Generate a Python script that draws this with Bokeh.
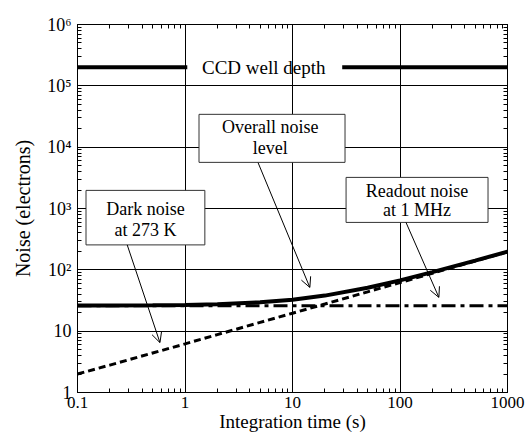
from bokeh.plotting import figure
from bokeh.models import LogAxis, Arrow, OpenHead, FixedTicker, Range1d
from bokeh.core.properties import value
from bokeh.embed import file_html
from bokeh.resources import INLINE

# ---- data ----
t = [0.1, 0.2, 0.5, 1, 2, 5, 10, 20, 50, 100, 200, 500, 1000]
dark_noise = [2.0, 2.8, 4.4, 6.2, 8.8, 13.9, 19.6, 27.7, 43.8, 62, 88, 139, 196]
overall_noise = [26.1, 26.2, 26.4, 26.7, 27.5, 29.5, 32.6, 38.0, 51.0, 67.3, 91.8, 141.4, 197.7]
readout_t = [0.1, 1000]
readout_noise = [26, 26]
well_depth = 2e5
well_left_x = [0.1, 1.05]
well_right_x = [29, 1000]

x_ticks = [0.1, 1, 10, 100, 1000]
x_tick_labels = ["0.1", "1", "10", "100", "1000"]
y_ticks = [1, 10, 100, 1000, 1e4, 1e5, 1e6]
y_tick_labels = ["1", "10", "10\u00b2", "10\u00b3", "10\u2074", "10\u2075", "10\u2076"]

# annotation boxes: left, right, bottom, top (data coords)
box_left = [0.12, 1.35, 31.5]
box_right = [1.53, 30.8, 659]
box_bottom = [255, 5650, 593]
box_top = [1974, 34300, 3214]
box_text_x = [0.43, 6.2, 144]
box_line1_y = [1000, 21000, 1900]
box_line2_y = [440, 9700, 930]
box_line1 = ["Dark noise", "Overall noise", "Readout noise"]
box_line2 = ["at 273 K", "level", "at 1 MHz"]

# arrows: start (x, y) -> end (x, y)
arrow_x0 = [0.29, 4.78, 113.7]
arrow_y0 = [255, 5600, 593]
arrow_x1 = [0.585, 14.5, 230]
arrow_y1 = [6.5, 51.6, 35.5]

FONT = "'Liberation Serif', 'Times New Roman', serif"
x_minor = [m * 10 ** e for e in range(-1, 3) for m in range(2, 10)]
y_minor = [m * 10 ** e for e in range(0, 6) for m in range(2, 10)]

p = figure(width=527, height=439, x_axis_type="log", y_axis_type="log",
           x_range=Range1d(0.1, 1000), y_range=Range1d(1, 1e6),
           output_backend="svg", toolbar_location=None,
           min_border_left=77, min_border_right=20, min_border_top=24,
           min_border_bottom=47, background_fill_color="white",
           border_fill_color="white", outline_line_color="black")

for g in (p.xgrid, p.ygrid):
    g.grid_line_color = "black"
    g.grid_line_width = 1
    g.minor_grid_line_color = None

def style_axis(ax, show_labels, label_size="18px"):
    ax.axis_line_color = "black"
    ax.axis_line_width = 1
    ax.major_tick_in = 8
    ax.major_tick_out = 0
    ax.minor_tick_in = 4
    ax.minor_tick_out = 0
    ax.major_tick_line_color = "black"
    ax.minor_tick_line_color = "black"
    ax.major_label_text_font = FONT
    ax.major_label_text_font_size = label_size
    ax.major_label_text_color = "black"
    if not show_labels:
        ax.major_label_text_alpha = 0
        ax.major_label_text_font_size = "2px"
    ax.axis_label_text_font = FONT
    ax.axis_label_text_font_style = "normal"
    ax.axis_label_text_font_size = "20px"
    ax.axis_label_text_color = "black"

p.xaxis.ticker = FixedTicker(ticks=x_ticks, minor_ticks=x_minor)
p.yaxis.ticker = FixedTicker(ticks=y_ticks, minor_ticks=y_minor)
p.xaxis.major_label_overrides = dict(zip(x_ticks, x_tick_labels))
p.yaxis.major_label_overrides = dict(zip(y_ticks, y_tick_labels))
p.xaxis.axis_label = "Integration time (s)"
p.yaxis.axis_label = "Noise (electrons)"
style_axis(p.xaxis[0], True, "17px")
style_axis(p.yaxis[0], True, "18px")
p.xaxis.axis_label_text_font_size = "19px"
p.xaxis.major_label_standoff = 4
p.xaxis.axis_label_standoff = 0
p.yaxis.major_label_standoff = 6
p.yaxis.axis_label_standoff = 10

top_ax = LogAxis(ticker=FixedTicker(ticks=x_ticks, minor_ticks=x_minor))
right_ax = LogAxis(ticker=FixedTicker(ticks=y_ticks, minor_ticks=y_minor))
style_axis(top_ax, False)
style_axis(right_ax, False)
top_ax.major_label_standoff = 0
right_ax.major_label_standoff = 0
p.add_layout(top_ax, "above")
p.add_layout(right_ax, "right")

# data lines
p.line(well_left_x, [well_depth, well_depth], line_color="black", line_width=4)
p.line(well_right_x, [well_depth, well_depth], line_color="black", line_width=4)
p.text(x=[5.4], y=[well_depth], text=["CCD well depth"], text_font=value(FONT),
       text_font_size="19px", text_align="center", text_baseline="middle", text_color="black")

p.line(readout_t, readout_noise, line_color="black", line_width=3, line_dash="14 5 4 5")
p.line(t, dark_noise, line_color="black", line_width=3, line_dash="7 4")
p.line(t, overall_noise, line_color="black", line_width=4)

# boxes
p.quad(left=box_left, right=box_right, bottom=box_bottom, top=box_top,
       fill_color="white", line_color="#333333", line_width=1)
p.text(x=box_text_x, y=box_line1_y, text=box_line1, text_font=value(FONT),
       text_font_size="18px", text_align="center", text_baseline="middle", text_color="black")
p.text(x=box_text_x, y=box_line2_y, text=box_line2, text_font=value(FONT),
       text_font_size="18px", text_align="center", text_baseline="middle", text_color="black")

for x0, y0, x1, y1 in zip(arrow_x0, arrow_y0, arrow_x1, arrow_y1):
    p.add_layout(Arrow(x_start=x0, y_start=y0, x_end=x1, y_end=y1,
                       line_color="black", line_width=1,
                       end=OpenHead(size=10, line_color="black", line_width=1)))

open("out.html", "w").write(file_html(p, INLINE))
